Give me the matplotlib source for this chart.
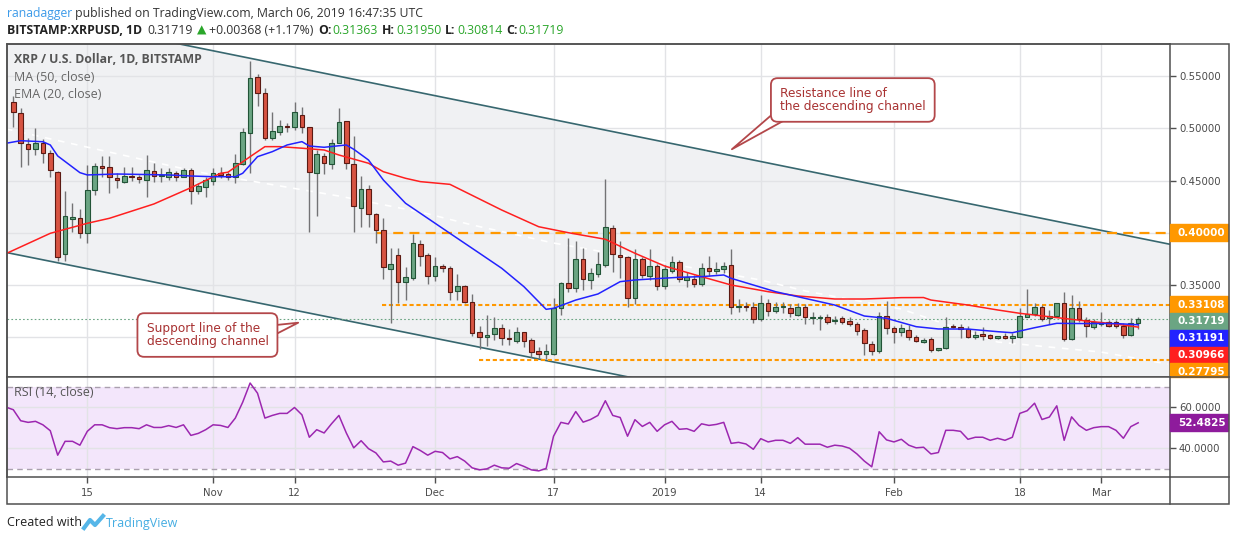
# ==============================================================================
# XRP / U.S. DOLLAR, 1D, BITSTAMP  -  TradingView style snapshot
# Candles + MA(50) + EMA(20), descending channel, key levels, RSI(14) pane.
# ==============================================================================

import numpy as np
import pandas as pd
import matplotlib
matplotlib.use("Agg")
import matplotlib.pyplot as plt
import matplotlib.transforms as mtransforms
from matplotlib.patches import Rectangle
from matplotlib.lines import Line2D

# ==============================================================================
# DATA (daily candles from 2018-10-05 to 2019-03-06)
# ==============================================================================
start_date = "2018-10-05"

opens = [
    0.5256, 0.5145, 0.4848, 0.4800, 0.4863, 0.4761, 0.4585, 0.3794, 0.4129, 0.4139,
    0.3995, 0.4410, 0.4640, 0.4627, 0.4528, 0.4490, 0.4544, 0.4537, 0.4506, 0.4591,
    0.4544, 0.4537, 0.4570, 0.4537, 0.4601, 0.4403, 0.4436, 0.4499, 0.4570, 0.4560,
    0.4532, 0.4659, 0.4959, 0.5489, 0.5336, 0.4905, 0.4962, 0.5023, 0.5010, 0.5125,
    0.5010, 0.4570, 0.4739, 0.4659, 0.4863, 0.5071, 0.4656, 0.4234, 0.4416, 0.4177,
    0.4027, 0.3650, 0.3787, 0.3526, 0.3564, 0.3890, 0.3784, 0.3589, 0.3682, 0.3660,
    0.3445, 0.3490, 0.3340, 0.3047, 0.2999, 0.3028, 0.3085, 0.2983, 0.2967, 0.3047,
    0.2973, 0.2865, 0.2836, 0.2839, 0.3277, 0.3516, 0.3468, 0.3749, 0.3548, 0.3602,
    0.3692, 0.4043, 0.3784, 0.3765, 0.3373, 0.3746, 0.3589, 0.3682, 0.3493, 0.3637,
    0.3717, 0.3548, 0.3561, 0.3507, 0.3660, 0.3634, 0.3650, 0.3692, 0.3290, 0.3299,
    0.3286, 0.3171, 0.3325, 0.3251, 0.3290, 0.3277, 0.3213, 0.3292, 0.3181, 0.3185,
    0.3191, 0.3155, 0.3181, 0.3158, 0.3127, 0.3069, 0.2935, 0.2871, 0.3203, 0.3085,
    0.3047, 0.3069, 0.3005, 0.2951, 0.2980, 0.2877, 0.2893, 0.3107, 0.3101, 0.3082,
    0.2999, 0.3031, 0.3021, 0.2995, 0.3001, 0.2989, 0.3005, 0.3196, 0.3219, 0.3292,
    0.3181, 0.3203, 0.3325, 0.2980, 0.3277, 0.3165, 0.3101, 0.3127, 0.3143, 0.3143,
    0.3108, 0.3021, 0.31363,
]
highs = [
    0.5306, 0.5193, 0.4905, 0.5001, 0.4896, 0.4793, 0.4590, 0.4403, 0.4289, 0.4225,
    0.4649, 0.4666, 0.4736, 0.4736, 0.4570, 0.4633, 0.4633, 0.4553, 0.4745, 0.4671,
    0.4617, 0.4617, 0.4594, 0.4617, 0.4617, 0.4480, 0.4537, 0.4620, 0.4627, 0.4585,
    0.4755, 0.5001, 0.5646, 0.5521, 0.5384, 0.5160, 0.5081, 0.5049, 0.5256, 0.5202,
    0.5010, 0.4793, 0.4762, 0.4896, 0.5193, 0.5071, 0.4926, 0.4544, 0.4458, 0.4187,
    0.4139, 0.3857, 0.3857, 0.3675, 0.3987, 0.3931, 0.3804, 0.3771, 0.3700, 0.3680,
    0.3605, 0.3500, 0.3414, 0.3107, 0.3213, 0.3191, 0.3126, 0.3076, 0.3095, 0.3053,
    0.2989, 0.2909, 0.2935, 0.3380, 0.3530, 0.3946, 0.3918, 0.3852, 0.3660, 0.3819,
    0.4513, 0.4075, 0.3924, 0.3778, 0.3842, 0.3771, 0.3842, 0.3701, 0.3692, 0.3778,
    0.3739, 0.3627, 0.3596, 0.3708, 0.3778, 0.3723, 0.3725, 0.3842, 0.3366, 0.3340,
    0.3340, 0.3405, 0.3366, 0.3340, 0.3340, 0.3318, 0.3330, 0.3318, 0.3240, 0.3213,
    0.3220, 0.3200, 0.3200, 0.3194, 0.3149, 0.3085, 0.2960, 0.3244, 0.3347, 0.3107,
    0.3126, 0.3117, 0.3020, 0.2990, 0.2999, 0.2900, 0.3196, 0.3130, 0.3124, 0.3110,
    0.3062, 0.3100, 0.3030, 0.3015, 0.3040, 0.3043, 0.3277, 0.3459, 0.3325, 0.3308,
    0.3260, 0.3330, 0.3430, 0.3404, 0.3347, 0.3191, 0.3175, 0.3238, 0.3165, 0.3165,
    0.3133, 0.3181, 0.31950,
]
lows = [
    0.5016, 0.4627, 0.4649, 0.4745, 0.4666, 0.4537, 0.3733, 0.3733, 0.4011, 0.3947,
    0.3899, 0.4362, 0.4537, 0.4378, 0.4426, 0.4474, 0.4497, 0.4474, 0.4346, 0.4490,
    0.4490, 0.4506, 0.4499, 0.4532, 0.4276, 0.4371, 0.4346, 0.4460, 0.4522, 0.4506,
    0.4480, 0.4649, 0.4570, 0.5215, 0.4889, 0.4889, 0.4937, 0.4968, 0.4985, 0.4959,
    0.4011, 0.4164, 0.4563, 0.4608, 0.4857, 0.4608, 0.4011, 0.4058, 0.4058, 0.3899,
    0.3555, 0.3133, 0.3325, 0.3356, 0.3545, 0.3682, 0.3507, 0.3541, 0.3620, 0.3356,
    0.3356, 0.3325, 0.3011, 0.2884, 0.2916, 0.2973, 0.2925, 0.2925, 0.2942, 0.2909,
    0.2807, 0.2798, 0.2795, 0.2833, 0.3213, 0.3436, 0.3436, 0.3452, 0.3459, 0.3580,
    0.3675, 0.3627, 0.3570, 0.3286, 0.3318, 0.3564, 0.3548, 0.3452, 0.3459, 0.3618,
    0.3532, 0.3478, 0.3484, 0.3490, 0.3586, 0.3605, 0.3615, 0.3219, 0.3244, 0.3250,
    0.3133, 0.3160, 0.3206, 0.3235, 0.3229, 0.3190, 0.3200, 0.3126, 0.3126, 0.3069,
    0.3126, 0.3126, 0.3126, 0.3105, 0.3021, 0.2830, 0.2830, 0.2852, 0.3031, 0.2947,
    0.3011, 0.2973, 0.2950, 0.2940, 0.2861, 0.2870, 0.2887, 0.3085, 0.2989, 0.2990,
    0.2980, 0.2970, 0.2980, 0.2980, 0.2980, 0.2947, 0.2995, 0.3190, 0.3203, 0.3158,
    0.3130, 0.3200, 0.2960, 0.2973, 0.3149, 0.2999, 0.3080, 0.3107, 0.3095, 0.3090,
    0.2989, 0.3011, 0.30814,
]
closes = [
    0.5154, 0.4857, 0.4800, 0.4863, 0.4767, 0.4601, 0.3771, 0.4161, 0.4148, 0.3995,
    0.4410, 0.4640, 0.4623, 0.4532, 0.4506, 0.4547, 0.4532, 0.4513, 0.4601, 0.4544,
    0.4553, 0.4579, 0.4537, 0.4601, 0.4403, 0.4448, 0.4506, 0.4570, 0.4553, 0.4532,
    0.4666, 0.4968, 0.5480, 0.5336, 0.4905, 0.4975, 0.5023, 0.5013, 0.5154, 0.5016,
    0.4585, 0.4752, 0.4666, 0.4857, 0.5064, 0.4666, 0.4256, 0.4416, 0.4177, 0.4027,
    0.3670, 0.3698, 0.3526, 0.3574, 0.3899, 0.3781, 0.3589, 0.3682, 0.3660, 0.3436,
    0.3490, 0.3334, 0.3037, 0.2999, 0.3021, 0.3085, 0.2989, 0.2980, 0.3047, 0.2967,
    0.2861, 0.2836, 0.2865, 0.3277, 0.3516, 0.3474, 0.3749, 0.3554, 0.3618, 0.3698,
    0.4053, 0.3797, 0.3765, 0.3373, 0.3749, 0.3596, 0.3682, 0.3493, 0.3653, 0.3717,
    0.3554, 0.3574, 0.3507, 0.3660, 0.3634, 0.3653, 0.3682, 0.3286, 0.3299, 0.3290,
    0.3171, 0.3325, 0.3251, 0.3286, 0.3296, 0.3229, 0.3292, 0.3196, 0.3191, 0.3191,
    0.3149, 0.3162, 0.3149, 0.3124, 0.3062, 0.2941, 0.2871, 0.3206, 0.3085, 0.3053,
    0.3085, 0.2999, 0.2964, 0.2973, 0.2877, 0.2893, 0.3101, 0.3095, 0.3082, 0.2999,
    0.3021, 0.3015, 0.2989, 0.3001, 0.2995, 0.3011, 0.3203, 0.3219, 0.3292, 0.3171,
    0.3203, 0.3325, 0.2980, 0.3277, 0.3171, 0.3108, 0.3143, 0.3149, 0.3108, 0.3108,
    0.3021, 0.31351, 0.31719,
]

# Moving averages, read at sample days (day 0 = first candle)
ma50_days = [-1, 5, 10, 13, 19, 24, 28, 29, 32, 34, 36, 39, 42, 44, 48, 50, 53, 55, 59, 66,
             71, 75, 80, 84, 88, 93, 97, 102, 106, 111, 115, 120, 123, 124, 129, 133, 136,
             140, 145, 149, 152]
ma50_vals = [0.3800, 0.3995, 0.4091, 0.4139, 0.4276, 0.4432, 0.4570, 0.4580, 0.4729, 0.4825,
             0.4825, 0.4810, 0.4793, 0.4745, 0.4666, 0.4585, 0.4522, 0.4490, 0.4464, 0.4218,
             0.4058, 0.4001, 0.3938, 0.3804, 0.3682, 0.3580, 0.3500, 0.3436, 0.3395, 0.3366,
             0.3366, 0.3379, 0.3380, 0.3356, 0.3308, 0.3261, 0.3229, 0.3196, 0.3155, 0.3126,
             0.30966]
ema20_days = [-1, 1, 4, 5, 6, 9, 10, 14, 21, 24, 27, 30, 31, 33, 35, 37, 39, 40, 42, 45, 46,
              48, 50, 53, 55, 59, 63, 66, 69, 72, 73, 76, 79, 82, 84, 86, 90, 93, 96, 97, 100,
              103, 106, 111, 115, 118, 122, 125, 129, 133, 135, 138, 141, 144, 149, 152]
ema20_vals = [0.4857, 0.4882, 0.4872, 0.4841, 0.4736, 0.4576, 0.4554, 0.4563, 0.4554, 0.4544,
              0.4537, 0.4537, 0.4570, 0.4729, 0.4777, 0.4841, 0.4873, 0.4831, 0.4819, 0.4841,
              0.4800, 0.4697, 0.4506, 0.4283, 0.4187, 0.3995, 0.3804, 0.3660, 0.3484, 0.3267,
              0.3277, 0.3356, 0.3414, 0.3532, 0.3548, 0.3557, 0.3574, 0.3580, 0.3596, 0.3564,
              0.3500, 0.3436, 0.3388, 0.3308, 0.3203, 0.3181, 0.3101, 0.3079, 0.3078, 0.3053,
              0.3043, 0.3091, 0.3133, 0.3131, 0.3131, 0.31191]
# faint white dashed study line seen inside the channel
faint_days = [-1, 25, 44, 55, 62, 73, 101, 107, 120, 133, 147, 156]
faint_vals = [0.4995, 0.4582, 0.4352, 0.4199, 0.4075, 0.3902, 0.3548, 0.3443, 0.3270, 0.2954,
              0.2858, 0.2743]

# RSI(14) from the day before the first candle
rsi_first_day = -1
rsi_vals = [
    60.2, 58.9, 53.5, 52.7, 53.2, 51.5, 48.6, 36.6, 43.4, 43.4,
    41.5, 48.3, 51.5, 51.5, 50.1, 49.6, 50.1, 50.1, 49.6, 51.5,
    50.2, 50.2, 51.1, 50.2, 51.5, 46.3, 47.3, 49.1, 51.5, 51.2,
    50.2, 54.8, 62.6, 72.0, 67.0, 54.8, 56.1, 57.1, 57.1, 60.0,
    56.4, 45.4, 49.1, 47.5, 52.0, 56.1, 47.5, 40.2, 43.7, 39.8,
    37.7, 33.3, 33.7, 31.7, 32.7, 40.8, 38.9, 36.6, 38.5, 37.9,
    34.8, 35.9, 33.7, 30.4, 29.4, 29.9, 31.7, 30.4, 30.2, 32.5,
    31.1, 29.4, 28.9, 30.1, 45.9, 52.7, 51.9, 58.0, 52.8, 54.1,
    56.1, 63.3, 56.1, 55.1, 45.9, 54.0, 50.7, 52.7, 48.3, 51.5,
    53.2, 49.3, 49.6, 48.3, 52.0, 51.2, 51.7, 52.7, 42.4, 42.9,
    42.1, 39.5, 44.7, 43.1, 43.9, 43.9, 42.4, 45.2, 42.0, 42.0,
    42.0, 40.5, 41.5, 41.1, 40.0, 37.2, 33.7, 30.9, 48.1, 44.1,
    43.1, 44.4, 41.5, 40.2, 40.5, 37.2, 37.9, 48.8, 48.8, 48.3,
    44.4, 45.4, 45.4, 43.9, 44.9, 43.9, 45.4, 57.1, 58.4, 62.1,
    54.1, 55.3, 60.8, 43.9, 55.4, 51.2, 48.8, 50.1, 50.6, 50.6,
    48.8, 44.9, 50.6, 52.4825,
]

# Drawn objects: channel anchors (day, price) and horizontal levels
res_days = [22.6, 156.3]
res_prices = [0.5806, 0.3890]
sup_days = [-0.85, 82.0]
sup_prices = [0.3810, 0.2635]
level_prices = [0.40000, 0.33108, 0.27795]
level_start = [49.1, 49.8, 62.9]

tick_dates = ["2018-10-15", "2018-11-01", "2018-11-12", "2018-12-01", "2018-12-17",
              "2019-01-01", "2019-01-14", "2019-02-01", "2019-02-18", "2019-03-01"]
tick_labels = ["15", "Nov", "12", "Dec", "17", "2019", "14", "Feb", "18", "Mar"]
price_ticks = [0.30, 0.35, 0.40, 0.45, 0.50, 0.55]
rsi_ticks = [40, 60]

# ==============================================================================
# STYLE
# ==============================================================================
UP, UP_EDGE = "#6ba583", "#225437"
DOWN, DOWN_EDGE = "#d75442", "#5b1a13"
WICK = "#737375"
FRAME = "#505050"
GRID = "#e2e3e6"
CHANNEL = "#37676f"
CHANNEL_FILL = "#f0f1f3"
ORANGE = "#ff9800"
MA_RED = "#ff1f1f"
EMA_BLUE = "#2222ff"
RSI_COL = "#9c27b0"
NOTE_TXT = "#a83232"
NOTE_EDGE = "#b3474a"
TXT = "#4a4a4a"
GREEN_TXT = "#2aa62a"

W, H = 1234, 541
PLOT_L, PLOT_R, FRAME_R = 7, 1170, 1229
PRICE_T, PRICE_B, RSI_B, AXIS_B = 44, 377, 477, 504


def fx(px):
    return px / W


def fy(py):
    return 1 - py / H


# ==============================================================================
# FIGURE & PANES
# ==============================================================================
fig = plt.figure(figsize=(W / 100, H / 100), dpi=100)
fig.patch.set_facecolor("white")
ax = fig.add_axes([fx(PLOT_L), fy(PRICE_B), (PLOT_R - PLOT_L) / W, (PRICE_B - PRICE_T) / H])
ax_rsi = fig.add_axes([fx(PLOT_L), fy(RSI_B), (PLOT_R - PLOT_L) / W, (RSI_B - PRICE_B) / H],
                      sharex=ax)

opens, highs, lows, closes = map(np.array, (opens, highs, lows, closes))
days = np.arange(len(closes))
dates = pd.date_range(start_date, periods=len(closes))

xmin, xmax = -0.85, 156.3
ax.set_xlim(xmin, xmax)
ax.set_ylim(0.2619, 0.5808)
ax_rsi.set_ylim(25.9, 74.95)

tick_pos = [dates.get_loc(pd.Timestamp(d)) for d in tick_dates]
ax_rsi.set_xticks(tick_pos)
ax_rsi.set_xticklabels(tick_labels)

for a in (ax, ax_rsi):
    a.set_axisbelow(True)
    a.grid(True, color=GRID, lw=1.0)
    for s in a.spines.values():
        s.set_color(FRAME)
        s.set_linewidth(1.1)
    a.yaxis.tick_right()
    a.tick_params(axis="y", length=4, width=1, color=FRAME, pad=2.5,
                  labelsize=7.3, labelcolor=TXT)

ax.tick_params(axis="x", length=0, labelbottom=False)
ax_rsi.tick_params(axis="x", length=4, width=1, color=FRAME, pad=4,
                   labelsize=7.3, labelcolor=TXT)
ax.set_yticks(price_ticks)
ax.set_yticklabels(["" if p in (0.30, 0.40) else f"{p:.5f}" for p in price_ticks])
ax_rsi.set_yticks(rsi_ticks)
ax_rsi.set_yticklabels([f"{r:.4f}" for r in rsi_ticks])

# ==============================================================================
# PRICE PANE: CHANNEL, STUDIES, CANDLES
# ==============================================================================
xl = np.array([xmin, xmax])
res_slope = (res_prices[1] - res_prices[0]) / (res_days[1] - res_days[0])
sup_slope = (sup_prices[1] - sup_prices[0]) / (sup_days[1] - sup_days[0])
res_line = res_prices[0] + res_slope * (xl - res_days[0])
sup_line = sup_prices[0] + sup_slope * (xl - sup_days[0])
ax.fill_between(xl, sup_line, res_line, color=CHANNEL_FILL, lw=0, zorder=0.2)
ax.plot(xl, res_line, color=CHANNEL, lw=1.2, zorder=2)
ax.plot(xl, sup_line, color=CHANNEL, lw=1.2, zorder=2)

ax.plot(faint_days, faint_vals, color="white", lw=1.2, ls=(0, (4, 4)), zorder=1)

# key levels
ax.plot([level_start[0], xmax], [level_prices[0]] * 2, color=ORANGE, lw=1.6,
        ls=(0, (4.5, 2.8)), zorder=2.2)
for lvl, x0 in zip(level_prices[1:], level_start[1:]):
    ax.plot([x0, xmax], [lvl, lvl], color=ORANGE, lw=1.5, ls=(0, (2.0, 1.3)), zorder=2.2)

# last close dotted line
ax.axhline(closes[-1], color=UP, lw=0.8, ls=(0, (1.5, 2)), zorder=2.1)

# candles
up = closes >= opens
body_lo = np.minimum(opens, closes)
body_h = np.maximum(np.abs(closes - opens), 0.0012)
ax.vlines(days, lows, highs, color=WICK, lw=1.0, zorder=3)
ax.bar(days[up], body_h[up], bottom=body_lo[up], width=0.62, color=UP,
       edgecolor=UP_EDGE, lw=0.8, zorder=4)
ax.bar(days[~up], body_h[~up], bottom=body_lo[~up], width=0.62, color=DOWN,
       edgecolor=DOWN_EDGE, lw=0.8, zorder=4)

ax.plot(ma50_days, ma50_vals, color=MA_RED, lw=1.1, zorder=5)
ax.plot(ema20_days, ema20_vals, color=EMA_BLUE, lw=1.1, zorder=5)

# legend text, top-left
ax.text(0.006, 0.952, "XRP / U.S. Dollar, 1D, BITSTAMP", transform=ax.transAxes,
        fontsize=8.8, fontweight="bold", color="#555555", family="Open Sans", va="center")
ax.text(0.006, 0.898, "MA (50, close)", transform=ax.transAxes, fontsize=9,
        color="#666666", family="Open Sans", va="center")
ax.text(0.006, 0.847, "EMA (20, close)", transform=ax.transAxes, fontsize=9,
        color="#666666", family="Open Sans", va="center")


# callouts
def callout(axis, text, tip, anchor, relpos):
    axis.annotate(text, xy=tip, xytext=anchor, ha="left", va="center", fontsize=8.7,
                  color=NOTE_TXT, linespacing=0.95, zorder=12,
                  bbox=dict(boxstyle="round,pad=0.75,rounding_size=0.55", fc="white",
                            ec=NOTE_EDGE, lw=1.3),
                  arrowprops=dict(arrowstyle="wedge,tail_width=1.2,shrink_factor=0.5",
                                  fc="white", ec=NOTE_EDGE, lw=1.3, relpos=relpos,
                                  patchA=None, shrinkA=0, shrinkB=0))


callout(ax, "Resistance line of\nthe descending channel", (97.1, 0.4800), (103.6, 0.5272),
        (0.06, 0.12))
callout(ax, "Support line of the\ndescending channel", (38.5, 0.3139), (18.0, 0.3021),
        (0.94, 0.55))


# ==============================================================================
# RIGHT SCALE TAGS
# ==============================================================================
def tag(axis, y, label, color, h):
    tf = mtransforms.blended_transform_factory(axis.transAxes, axis.transData)
    lo, hi = axis.get_ylim()
    y0, y1 = max(y - h / 2, lo), min(y + h / 2, hi)
    axis.add_patch(Rectangle((1.0, y0), 58 / (PLOT_R - PLOT_L), y1 - y0, transform=tf,
                             color=color, clip_on=False, zorder=10))
    axis.text(1.0 + 8 / (PLOT_R - PLOT_L), y, label, transform=tf, color="white",
              fontsize=7.5, fontweight="bold", va="center", ha="left", clip_on=False,
              zorder=11)


tag_h = 16.7 * (0.5808 - 0.2619) / (PRICE_B - PRICE_T)
tags = [(level_prices[0], ORANGE), (level_prices[1], ORANGE), (closes[-1], UP),
        (ema20_vals[-1], EMA_BLUE), (ma50_vals[-1], MA_RED), (level_prices[2], ORANGE)]
tags.sort(key=lambda t: -t[0])
prev = None
for val, col in tags:
    pos = val if prev is None else min(val, prev - tag_h)
    tag(ax, pos, f"{val:.5f}", col, tag_h)
    prev = pos

# ==============================================================================
# RSI PANE
# ==============================================================================
rsi_days = np.arange(rsi_first_day, rsi_first_day + len(rsi_vals))
ax_rsi.axhspan(30, 70, color="#f3e6fb", lw=0, zorder=0.2)
for lvl in (30, 70):
    ax_rsi.axhline(lvl, color="#aaa0ae", lw=1.0, ls=(0, (4, 3)), zorder=1)
ax_rsi.plot(rsi_days, rsi_vals, color=RSI_COL, lw=1.1, zorder=3)
ax_rsi.text(0.006, 0.84, "RSI (14, close)", transform=ax_rsi.transAxes, fontsize=9,
            color="#555555", family="Open Sans", va="center")
tag(ax_rsi, rsi_vals[-1], f"{rsi_vals[-1]:.4f}", "#8e1b9c", 8.4)

# ==============================================================================
# FRAME, HEADER & FOOTER
# ==============================================================================
fig.add_artist(Rectangle((fx(PLOT_L), fy(AXIS_B)), (FRAME_R - PLOT_L) / W,
                         (AXIS_B - PRICE_T) / H, transform=fig.transFigure, fill=False,
                         ec=FRAME, lw=1.1))
for py in (PRICE_B, RSI_B):
    fig.add_artist(Line2D([fx(PLOT_R), fx(FRAME_R)], [fy(py), fy(py)], color=FRAME, lw=1.1))
fig.add_artist(Line2D([fx(PLOT_R), fx(PLOT_R)], [fy(RSI_B), fy(AXIS_B)], color=FRAME, lw=1.1))

renderer = fig.canvas.get_renderer()


def draw_runs(runs, x_px, y_px, size):
    x = x_px
    for text, color, weight, gap in runs:
        t = fig.text(fx(x), fy(y_px), text, color=color, fontsize=size, fontweight=weight,
                     family=["Open Sans", "DejaVu Sans"], va="center", ha="left")
        x += t.get_window_extent(renderer).width + gap


chg = closes[-1] - closes[-2]
pct = chg / closes[-2] * 100
draw_runs([("ranadagger", "#3d9be9", "normal", 0),
           (" published on TradingView.com, March 06, 2019 16:47:35 UTC", "#333333", "normal", 0)],
          7, 13, 8.8)
draw_runs([("BITSTAMP:XRPUSD, 1D", "#222222", "bold", 5),
           (f"{closes[-1]:.5f}", "#333333", "normal", 4),
           ("▲", GREEN_TXT, "normal", 3),
           (f"+{chg:.5f} (+{pct:.2f}%)", "#333333", "normal", 5),
           ("O:", "#222222", "bold", 1), (f"{opens[-1]:.5f}", GREEN_TXT, "normal", 4),
           ("H:", "#222222", "bold", 1), (f"{highs[-1]:.5f}", GREEN_TXT, "normal", 4),
           ("L:", "#222222", "bold", 1), (f"{lows[-1]:.5f}", GREEN_TXT, "normal", 4),
           ("C:", "#222222", "bold", 1), (f"{closes[-1]:.5f}", GREEN_TXT, "normal", 0)],
          7, 30, 8.8)

fig.text(fx(7), fy(523), "Created with", fontsize=9, color="#222222", family="Open Sans",
         va="center")
fig.add_artist(Line2D([fx(84), fx(90), fx(95), fx(103)], [fy(528), fy(520), fy(525), fy(516)],
                      color="#56b6e8", lw=3, solid_joinstyle="round"))
fig.text(fx(106), fy(523), "TradingView", fontsize=9, color="#45ade2", family="Open Sans",
         va="center")

fig.savefig("out.png", dpi=100, facecolor="white")
